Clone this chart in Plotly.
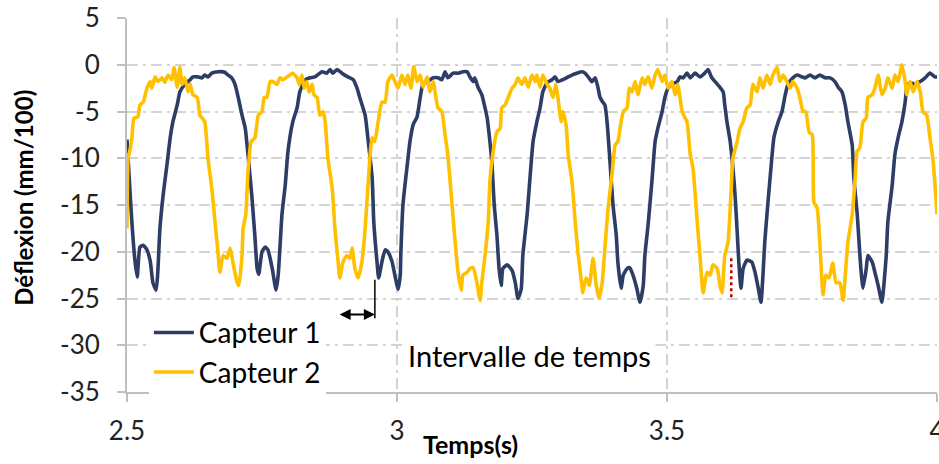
import plotly.graph_objects as go

# ---------------- data ----------------
t_capteur1 = [2.500, 2.504, 2.509, 2.515, 2.519, 2.524, 2.530, 2.537, 2.543, 2.548,
              2.554, 2.557, 2.561, 2.567, 2.574, 2.580, 2.585, 2.593, 2.598, 2.607,
              2.617, 2.622, 2.631, 2.639, 2.644, 2.650, 2.657, 2.669, 2.681, 2.687,
              2.694, 2.700, 2.706, 2.713, 2.719, 2.724, 2.731, 2.737, 2.741, 2.744,
              2.750, 2.756, 2.761, 2.769, 2.776, 2.780, 2.787, 2.793, 2.798, 2.807,
              2.815, 2.820, 2.830, 2.839, 2.848, 2.861, 2.870, 2.876, 2.881, 2.889,
              2.898, 2.909, 2.919, 2.926, 2.931, 2.941, 2.946, 2.954, 2.957, 2.963,
              2.966, 2.972, 2.978, 2.983, 2.991, 2.996, 3.002, 3.006, 3.007, 3.011,
              3.019, 3.024, 3.030, 3.037, 3.043, 3.048, 3.057, 3.067, 3.076, 3.083,
              3.089, 3.094, 3.104, 3.113, 3.122, 3.130, 3.135, 3.141, 3.144, 3.150,
              3.157, 3.161, 3.167, 3.172, 3.176, 3.180, 3.185, 3.189, 3.193, 3.196,
              3.204, 3.213, 3.219, 3.224, 3.230, 3.233, 3.241, 3.246, 3.252, 3.259,
              3.265, 3.270, 3.278, 3.287, 3.293, 3.298, 3.307, 3.317, 3.324, 3.333,
              3.343, 3.348, 3.354, 3.361, 3.367, 3.372, 3.376, 3.380, 3.385, 3.389,
              3.394, 3.400, 3.406, 3.409, 3.415, 3.419, 3.426, 3.431, 3.437, 3.444,
              3.450, 3.456, 3.459, 3.465, 3.472, 3.478, 3.483, 3.491, 3.496, 3.502,
              3.509, 3.519, 3.524, 3.530, 3.537, 3.543, 3.552, 3.561, 3.570, 3.576,
              3.583, 3.589, 3.598, 3.604, 3.607, 3.611, 3.617, 3.622, 3.626, 3.630,
              3.633, 3.637, 3.641, 3.648, 3.657, 3.663, 3.669, 3.674, 3.678, 3.681,
              3.687, 3.693, 3.698, 3.706, 3.713, 3.719, 3.724, 3.733, 3.741, 3.750,
              3.756, 3.765, 3.774, 3.783, 3.793, 3.802, 3.811, 3.817, 3.824, 3.830,
              3.835, 3.843, 3.846, 3.852, 3.856, 3.859, 3.863, 3.869, 3.872, 3.880,
              3.885, 3.891, 3.898, 3.902, 3.906, 3.909, 3.917, 3.922, 3.928, 3.935,
              3.941, 3.944, 3.950, 3.959, 3.969, 3.978, 3.987, 3.996, 4.000]
y_capteur1 = [-8.0, -12.0, -16.8, -21.1, -22.7, -19.5, -19.3, -19.8, -21.0, -23.3,
              -24.1, -22.2, -17.5, -13.9, -10.7, -7.8, -6.1, -4.3, -2.9, -2.1,
              -1.6, -1.3, -1.3, -1.4, -1.1, -1.3, -0.9, -0.75, -0.8, -1.1,
              -1.4, -2.1, -3.5, -5.4, -6.8, -9.6, -13.9, -18.5, -21.8, -22.4,
              -20.0, -19.5, -19.8, -21.8, -24.1, -22.5, -16.0, -12.9, -9.3, -6.1,
              -4.6, -2.9, -1.6, -1.4, -1.3, -0.75, -0.9, -0.5, -0.9, -0.5,
              -0.9, -1.3, -1.6, -2.5, -3.5, -5.4, -7.8, -12.1, -16.8, -21.1,
              -22.8, -21.1, -19.8, -20.0, -21.1, -22.5, -24.0, -22.5, -20.4, -15.0,
              -10.7, -8.2, -6.4, -5.6, -3.5, -2.1, -1.8, -1.4, -1.4, -1.6,
              -0.75, -1.4, -0.9, -0.9, -0.75, -0.75, -1.3, -1.8, -1.4, -2.4,
              -3.2, -4.1, -5.7, -8.2, -10.7, -15.0, -18.2, -21.8, -23.6, -21.8,
              -21.4, -22.0, -23.3, -25.0, -24.0, -20.4, -16.0, -12.3, -8.2, -6.1,
              -4.6, -2.9, -1.9, -1.6, -1.3, -1.8, -1.6, -1.3, -1.1, -0.9,
              -0.75, -0.9, -1.3, -1.8, -1.4, -2.4, -3.5, -3.9, -4.3, -6.1,
              -10.0, -15.0, -18.2, -21.1, -23.9, -22.5, -21.8, -21.7, -22.5, -23.9,
              -25.4, -23.6, -20.4, -17.1, -12.5, -8.2, -6.8, -5.0, -3.5, -2.5,
              -2.1, -1.8, -1.3, -1.4, -0.9, -1.4, -0.9, -1.3, -0.9, -0.5,
              -1.4, -1.8, -2.4, -2.9, -4.3, -6.1, -8.2, -11.0, -13.9, -17.9,
              -21.1, -23.9, -21.8, -20.9, -21.1, -22.2, -23.9, -25.4, -22.2, -19.0,
              -14.7, -10.7, -7.8, -6.1, -5.0, -3.2, -2.1, -1.4, -1.1, -1.3,
              -1.4, -1.1, -1.4, -1.1, -1.4, -1.4, -1.8, -2.4, -2.9, -4.3,
              -6.1, -8.6, -12.1, -15.8, -19.3, -21.8, -23.9, -21.8, -20.4, -21.1,
              -22.2, -23.6, -25.4, -23.3, -20.4, -16.8, -12.9, -9.6, -7.8, -6.1,
              -4.0, -2.5, -1.9, -2.1, -1.8, -1.4, -0.9, -1.3, -1.3]

t_capteur2 = [2.500, 2.502, 2.506, 2.509, 2.513, 2.520, 2.524, 2.530, 2.537, 2.543,
              2.546, 2.552, 2.557, 2.565, 2.570, 2.576, 2.583, 2.587, 2.593, 2.598,
              2.602, 2.607, 2.613, 2.617, 2.622, 2.630, 2.635, 2.639, 2.644, 2.650,
              2.657, 2.663, 2.669, 2.672, 2.678, 2.685, 2.691, 2.696, 2.704, 2.707,
              2.713, 2.715, 2.720, 2.724, 2.730, 2.737, 2.743, 2.750, 2.754, 2.759,
              2.765, 2.770, 2.778, 2.783, 2.789, 2.796, 2.802, 2.807, 2.815, 2.819,
              2.824, 2.828, 2.833, 2.837, 2.843, 2.846, 2.852, 2.857, 2.863, 2.867,
              2.872, 2.880, 2.885, 2.891, 2.894, 2.900, 2.907, 2.913, 2.917, 2.922,
              2.928, 2.935, 2.941, 2.946, 2.954, 2.959, 2.965, 2.972, 2.978, 2.983,
              2.991, 2.996, 3.002, 3.009, 3.015, 3.020, 3.026, 3.031, 3.037, 3.043,
              3.048, 3.056, 3.061, 3.067, 3.072, 3.076, 3.083, 3.089, 3.094, 3.102,
              3.107, 3.113, 3.119, 3.122, 3.130, 3.135, 3.141, 3.148, 3.154, 3.157,
              3.163, 3.169, 3.172, 3.178, 3.185, 3.191, 3.194, 3.200, 3.206, 3.213,
              3.219, 3.224, 3.231, 3.237, 3.243, 3.250, 3.256, 3.259, 3.265, 3.270,
              3.278, 3.283, 3.289, 3.294, 3.298, 3.304, 3.307, 3.313, 3.317, 3.324,
              3.330, 3.335, 3.343, 3.344, 3.350, 3.356, 3.363, 3.369, 3.374, 3.380,
              3.385, 3.391, 3.398, 3.404, 3.409, 3.415, 3.419, 3.426, 3.430, 3.435,
              3.441, 3.446, 3.454, 3.459, 3.465, 3.472, 3.478, 3.483, 3.491, 3.496,
              3.502, 3.509, 3.515, 3.520, 3.528, 3.531, 3.537, 3.543, 3.548, 3.556,
              3.561, 3.567, 3.574, 3.580, 3.585, 3.593, 3.598, 3.602, 3.607, 3.613,
              3.619, 3.622, 3.630, 3.635, 3.641, 3.648, 3.654, 3.659, 3.667, 3.672,
              3.678, 3.685, 3.691, 3.696, 3.704, 3.709, 3.715, 3.722, 3.728, 3.733,
              3.741, 3.746, 3.752, 3.757, 3.763, 3.769, 3.772, 3.778, 3.783, 3.789,
              3.794, 3.800, 3.807, 3.813, 3.820, 3.826, 3.831, 3.835, 3.843, 3.848,
              3.852, 3.857, 3.863, 3.869, 3.872, 3.880, 3.885, 3.891, 3.898, 3.904,
              3.909, 3.917, 3.922, 3.928, 3.935, 3.941, 3.944, 3.950, 3.956, 3.963,
              3.969, 3.974, 3.981, 3.987, 3.993, 4.000]
y_capteur2 = [-17.5, -10.0, -9.0, -7.8, -5.7, -5.6, -4.3, -4.0, -2.5, -1.8,
              -2.5, -1.3, -1.8, -1.4, -1.9, -1.1, -1.6, -0.3, -2.4, -0.3,
              -2.1, -1.4, -2.9, -2.1, -3.2, -3.5, -5.4, -5.7, -6.1, -10.0,
              -13.2, -16.8, -20.4, -22.2, -20.4, -20.7, -19.6, -21.1, -23.3, -23.6,
              -20.4, -17.5, -16.0, -11.5, -8.2, -7.8, -5.4, -5.0, -3.5, -3.5,
              -1.8, -1.8, -2.1, -1.4, -1.6, -1.3, -1.1, -0.9, -1.4, -2.1,
              -1.1, -2.5, -1.8, -2.9, -2.1, -3.2, -3.5, -5.4, -5.0, -6.1,
              -10.0, -13.2, -17.5, -21.1, -22.8, -21.1, -20.4, -20.7, -19.6, -21.8,
              -22.8, -21.1, -17.5, -13.2, -7.8, -8.2, -6.1, -4.0, -4.0, -1.8,
              -1.1, -1.8, -2.5, -1.1, -2.1, -1.1, -2.5, -0.2, -1.8, -1.1,
              -2.4, -1.3, -2.9, -1.8, -3.5, -4.6, -5.0, -7.5, -9.6, -15.0,
              -18.5, -22.2, -24.1, -22.5, -22.2, -21.8, -21.7, -23.3, -25.2, -23.3,
              -20.4, -16.8, -12.5, -9.3, -7.2, -6.8, -4.6, -4.3, -3.5, -2.5,
              -2.1, -1.4, -2.1, -1.4, -2.4, -1.1, -1.8, -1.1, -2.4, -1.1,
              -2.1, -2.5, -3.5, -2.1, -3.5, -6.1, -5.0, -6.4, -9.6, -12.5,
              -16.8, -20.0, -23.9, -24.4, -22.8, -23.6, -20.7, -23.6, -25.0, -23.3,
              -19.6, -15.3, -11.8, -8.6, -8.2, -6.1, -5.0, -4.6, -2.5, -2.9,
              -1.8, -3.2, -1.4, -2.1, -1.3, -2.5, -1.1, -0.5, -1.8, -1.1,
              -2.5, -1.8, -3.2, -2.1, -5.0, -5.4, -6.1, -9.6, -11.0, -16.8,
              -20.4, -24.4, -22.2, -22.5, -21.4, -21.8, -23.6, -24.4, -20.4, -19.0,
              -13.2, -10.0, -8.2, -6.8, -6.1, -4.6, -4.3, -2.1, -2.9, -1.4,
              -2.5, -1.1, -2.1, -1.1, -0.3, -1.8, -1.1, -1.8, -2.5, -1.8,
              -2.5, -3.5, -5.0, -5.0, -7.2, -7.5, -14.7, -15.3, -19.0, -24.6,
              -22.5, -22.8, -21.2, -23.3, -23.3, -25.2, -21.8, -19.0, -16.0, -12.5,
              -9.3, -8.9, -6.1, -5.7, -3.5, -3.2, -2.5, -1.1, -3.2, -2.5,
              -1.4, -2.5, -1.1, -1.8, 0.0, -1.8, -3.2, -1.8, -2.9, -1.8,
              -2.9, -5.0, -5.4, -7.8, -10.4, -16.0]

series_names = ["Capteur 1", "Capteur 2"]
x_tickvals = [2.5, 3.0, 3.5, 4.0]
x_ticktext = ["2.5", "3", "3.5", "4"]
y_tickvals = [5, 0, -5, -10, -15, -20, -25, -30, -35]
y_ticktext = ["5", "0", "-5", "-10", "-15", "-20", "-25", "-30", "-35"]

x_title = "Temps(s)"
y_title = "Déflexion (mm/100)"
note_text = "Intervalle de temps"

# annotation geometry (data coordinates)
arrow_t = [2.891, 2.959]
arrow_y = -26.7
marker_t = 2.959
marker_y = [-23.0, -27.1]
red_t = 3.619
red_y = [-20.7, -25.0]
note_pos = (3.246, -31.1)

NAVY = "#2E3D66"
GOLD = "#FFC000"
GRID = "#D4D4D4"
AXIS = "#BFBFBF"
FONT = "Lato, 'Open Sans', sans-serif"

fig = go.Figure()
fig.add_trace(go.Scatter(x=t_capteur1, y=y_capteur1, mode="lines", name=series_names[0],
                         line=dict(color=NAVY, width=3.6, shape="spline", smoothing=0.5)))
fig.add_trace(go.Scatter(x=t_capteur2, y=y_capteur2, mode="lines", name=series_names[1],
                         line=dict(color=GOLD, width=3.6, shape="spline", smoothing=0.5)))

# vertical marker line + double arrow
fig.add_shape(type="line", x0=marker_t, x1=marker_t, y0=marker_y[0], y1=marker_y[1],
              xref="x", yref="y", line=dict(color="black", width=1.5))
fig.add_annotation(x=arrow_t[1], y=arrow_y, ax=arrow_t[0], ay=arrow_y,
                   xref="x", yref="y", axref="x", ayref="y", text="",
                   showarrow=True, arrowhead=2, arrowside="end+start",
                   arrowsize=1.1, arrowwidth=2, arrowcolor="black")
# red dotted line
fig.add_shape(type="line", x0=red_t, x1=red_t, y0=red_y[0], y1=red_y[1],
              xref="x", yref="y", line=dict(color="#C00000", width=2.5, dash="dot"))

fig.add_annotation(x=note_pos[0], y=note_pos[1], xref="x", yref="y", text=note_text,
                   showarrow=False, font=dict(family=FONT, size=29, color="black"),
                   bgcolor="white", borderpad=4)

fig.add_annotation(x=-0.128, y=0.52, xref="paper", yref="paper", text="<b>" + y_title + "</b>",
                   textangle=-90, showarrow=False, xanchor="center", yanchor="middle",
                   font=dict(family=FONT, size=24, color="black"))
fig.add_annotation(x=0.4235, y=-0.139, xref="paper", yref="paper", text="<b>" + x_title + "</b>",
                   showarrow=False, xanchor="center", yanchor="middle",
                   font=dict(family=FONT, size=25, color="black"))

fig.update_layout(
    template="none",
    width=939, height=464,
    margin=dict(l=127, r=2, t=18, b=72, autoexpand=False),
    paper_bgcolor="white", plot_bgcolor="white",
    font=dict(family=FONT, size=26, color="#222222"),
    showlegend=True,
    legend=dict(x=0.027, y=0.225, xanchor="left", yanchor="top",
                bgcolor="white", borderwidth=0,
                font=dict(family=FONT, size=28, color="black"),
                tracegroupgap=0, itemwidth=40),
    xaxis=dict(range=[2.5, 4.0], tickvals=x_tickvals, ticktext=x_ticktext,
               showgrid=True, gridcolor=GRID, gridwidth=2, griddash="11px,5px,3px,5px",
               showline=True, linecolor=AXIS, linewidth=2,
               ticks="outside", ticklen=8, tickcolor=AXIS, tickwidth=2,
               ticklabelstandoff=7, ticklabeloverflow="allow",
               automargin=False, zeroline=False,
               tickfont=dict(family=FONT, size=26, color="#222222")),
    yaxis=dict(range=[-35, 5], tickvals=y_tickvals, ticktext=y_ticktext,
               showgrid=True, gridcolor=GRID, gridwidth=2, griddash="11px,5px,3px,5px",
               showline=True, linecolor=AXIS, linewidth=2,
               ticks="outside", ticklen=8, tickcolor=AXIS, tickwidth=2,
               ticklabelstandoff=12, automargin=False, zeroline=False,
               tickfont=dict(family=FONT, size=26, color="#222222")),
)

fig.write_html("out.html", config={"displayModeBar": False},
               post_script="document.body.style.margin='0';document.body.style.padding='0';")
